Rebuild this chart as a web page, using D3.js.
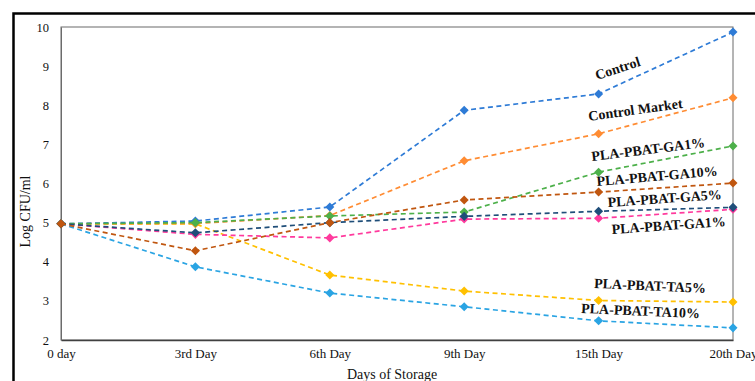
<!DOCTYPE html>
<html>
<head>
<meta charset="utf-8">
<script src="https://cdn.jsdelivr.net/npm/d3@7"></script>
<style>
  body { margin: 0; background: #fff; }
  svg { display: block; font-family: "Liberation Serif", "Times New Roman", serif; }
</style>
</head>
<body>
<div id="wrapper"></div>
<script>
const days = ["0 day", "3rd Day", "6th Day", "9th Day", "15th Day", "20th Day"]
const yTicks = [2, 3, 4, 5, 6, 7, 8, 9, 10]

const control       = [4.97, 5.04, 5.40, 7.87, 8.29, 9.87]
const controlMarket = [4.97, 4.98, 5.18, 6.58, 7.27, 8.19]
const ga1           = [4.97, 5.00, 5.17, 5.27, 6.29, 6.96]
const ga10          = [4.97, 4.28, 5.00, 5.58, 5.78, 6.01]
const ga5           = [4.97, 4.74, 5.00, 5.16, 5.29, 5.39]
const ga1b          = [4.97, 4.70, 4.61, 5.09, 5.11, 5.34]
const ta5           = [4.97, 4.97, 3.66, 3.25, 3.01, 2.97]
const ta10          = [4.97, 3.87, 3.20, 2.85, 2.49, 2.31]

const seriesNames = ["Control", "Control Market", "PLA-PBAT-GA1%", "PLA-PBAT-GA10%",
  "PLA-PBAT-GA5%", "PLA-PBAT-GA1%", "PLA-PBAT-TA5%", "PLA-PBAT-TA10%"]

async function drawChart(){

  const series = [
    {values: ta10, color: "#2AA4E3"},
    {values: ta5, color: "#FFC000"},
    {values: ga1b, color: "#FF3A9D"},
    {values: controlMarket, color: "#FF8C33"},
    {values: control, color: "#2E7BD6"},
    {values: ga1, color: "#4DB04A"},
    {values: ga5, color: "#1F4E79"},
    {values: ga10, color: "#C0560F"},
  ]

  // label placement (page px) and tilt
  const labelLayout = [
    {x: 597, y: 80, a: -18},
    {x: 589, y: 121, a: -8},
    {x: 592, y: 161, a: -7},
    {x: 597, y: 186, a: -5},
    {x: 608, y: 207, a: -4},
    {x: 612, y: 234, a: -4},
    {x: 594, y: 288, a: 2.5},
    {x: 581, y: 313, a: 2.5},
  ]

  let dimensions = {
    width: 755,
    height: 381,
    margin: {top: 27, right: 22, bottom: 41, left: 61},
  }
  dimensions.boundedWidth = dimensions.width - dimensions.margin.left - dimensions.margin.right
  dimensions.boundedHeight = dimensions.height - dimensions.margin.top - dimensions.margin.bottom

  const wrapper = d3.select("#wrapper")
    .append("svg")
      .attr("width", dimensions.width)
      .attr("height", dimensions.height)

  // outer frame
  wrapper.append("path")
    .attr("d", `M13.5,${dimensions.height} V13.5 H${dimensions.width}`)
    .attr("fill", "none")
    .attr("stroke", "#000")
    .attr("stroke-width", 2.5)

  const bounds = wrapper.append("g")
    .attr("transform", `translate(${dimensions.margin.left},${dimensions.margin.top})`)

  const xScale = d3.scalePoint()
    .domain(days)
    .range([0, dimensions.boundedWidth])

  const yScale = d3.scaleLinear()
    .domain([2, 10])
    .range([dimensions.boundedHeight, 0])

  // plot box
  bounds.append("rect")
    .attr("width", dimensions.boundedWidth)
    .attr("height", dimensions.boundedHeight)
    .attr("fill", "none")
    .attr("stroke", "#6b6b6b")
    .attr("stroke-width", 1)

  const xAxisGenerator = d3.axisBottom(xScale).tickSize(0).tickPadding(9)
  const xAxis = bounds.append("g")
    .attr("transform", `translate(0,${dimensions.boundedHeight})`)
    .call(xAxisGenerator)
  xAxis.select(".domain").attr("stroke", "#404040").attr("stroke-width", 1.5)
  xAxis.selectAll("text")
    .attr("fill", "#111")
    .style("font-size", "13px")
    .style("font-family", "Liberation Serif, serif")

  const yAxisGenerator = d3.axisLeft(yScale).tickValues(yTicks).tickSize(0).tickPadding(12)
  const yAxis = bounds.append("g").call(yAxisGenerator)
  yAxis.select(".domain").attr("stroke", "#6b6b6b")
  yAxis.selectAll("text")
    .attr("fill", "#111")
    .style("font-size", "12.5px")
    .style("font-family", "Liberation Serif, serif")

  bounds.append("text")
    .attr("x", dimensions.boundedWidth / 2 - 5)
    .attr("y", dimensions.boundedHeight + 39)
    .attr("text-anchor", "middle")
    .attr("fill", "#111")
    .style("font-size", "14px")
    .text("Days of Storage")

  bounds.append("text")
    .attr("transform", `translate(${-dimensions.margin.left + 30},${dimensions.boundedHeight / 2 + 28}) rotate(-90)`)
    .attr("text-anchor", "middle")
    .attr("fill", "#111")
    .style("font-size", "14px")
    .text("Log CFU/ml")

  const lineGenerator = d3.line()
    .x((d, i) => xScale(days[i]))
    .y(d => yScale(d))

  const diamond = d3.symbol().type(d3.symbolDiamond2).size(52)

  series.forEach(s => {
    bounds.append("path")
      .attr("d", lineGenerator(s.values))
      .attr("fill", "none")
      .attr("stroke", s.color)
      .attr("stroke-width", 1.7)
      .attr("stroke-dasharray", "5,3.5")

    bounds.selectAll(null)
      .data(s.values)
      .enter().append("path")
        .attr("d", diamond)
        .attr("transform", (d, i) => `translate(${xScale(days[i])},${yScale(d)})`)
        .attr("fill", s.color)
  })

  wrapper.append("g")
    .selectAll("text")
    .data(seriesNames)
    .enter().append("text")
      .attr("transform", (d, i) => `translate(${labelLayout[i].x},${labelLayout[i].y}) rotate(${labelLayout[i].a})`)
      .attr("fill", "#111")
      .style("font-size", "14px")
      .style("font-weight", "bold")
      .text(d => d)
}

drawChart()
</script>
</body>
</html>
